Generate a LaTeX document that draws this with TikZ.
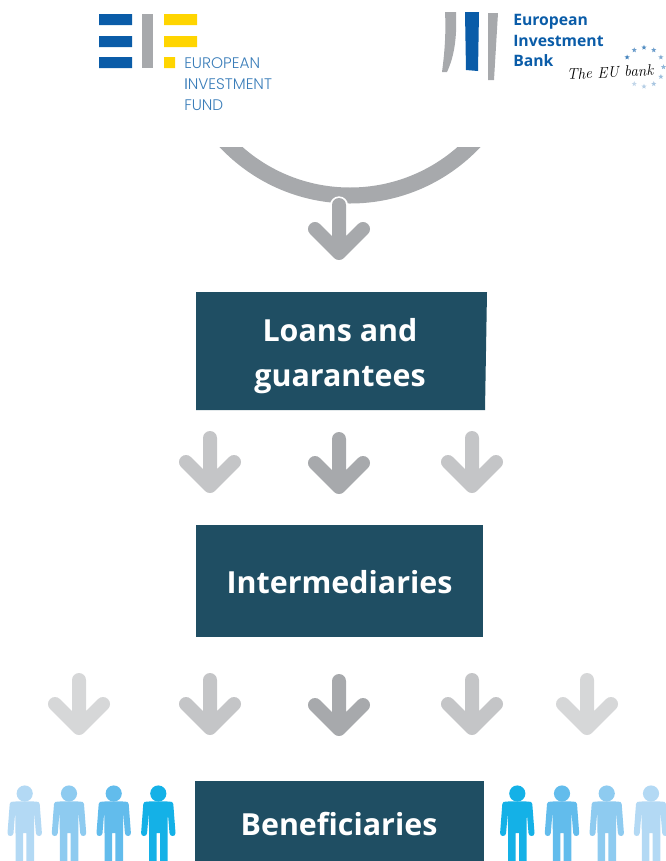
\documentclass[tikz,border=0pt]{standalone}
\usepackage{fontspec}
\usetikzlibrary{shapes.geometric}
\newfontfamily\headfont{Open Sans}
\newfontfamily\eibfont{Open Sans}
\newfontfamily\eiffont{Poppins Light}
\definecolor{boxteal}{HTML}{1F4E63}
\definecolor{arrowdark}{HTML}{A7A9AC}
\definecolor{arrowmid}{HTML}{C4C5C7}
\definecolor{arrowlight}{HTML}{D6D7D8}
\definecolor{eiblue}{HTML}{0A5CA8}
\definecolor{eitext}{HTML}{3A7DB9}
\definecolor{eiyellow}{HTML}{FFD500}
\definecolor{personA}{HTML}{B3D9F4}
\definecolor{personB}{HTML}{8ECBF0}
\definecolor{personC}{HTML}{62BCEC}
\definecolor{personD}{HTML}{14B1E7}
\tikzset{
  x=0.75pt,y=-0.75pt,
  tealbox/.style={fill=boxteal,draw=none},
  boxtext/.style={text=white,font=\headfont\bfseries\fontsize{22.8}{33.75}\selectfont,align=center,inner sep=0pt},
  eiftext/.style={text=eitext,font=\eiffont\fontsize{11.5}{14}\selectfont,anchor=base west,inner sep=0pt},
  eibtext/.style={text=eiblue,font=\eibfont\bfseries\fontsize{11.8}{15}\selectfont,anchor=base west,inner sep=0pt},
  pics/dnarrow/.style={code={
    \draw[#1,line width=10.5pt,line cap=round,line join=round]
      (0,0) -- (0,48) (-24,24) -- (0,48) -- (24,24);
  }},
  pics/person/.style={code={
    \fill[#1] (0,-15.5) circle[radius=8.1];
    \fill[#1] (-13.8,-7) .. controls (-10,-8) and (10,-8) .. (13.8,-7)
      .. controls (14.6,-6.7) and (15,-6) .. (15,-5)
      -- (17.2,24) .. controls (17.4,28) and (11.4,28) .. (11.2,24) -- (9.5,3)
      -- (9.3,24) -- (9.3,60) -- (1.7,60) -- (1.7,24) -- (-1.7,24) -- (-1.7,60) -- (-9.2,60) -- (-9.2,24) -- (-9.5,3)
      -- (-11.2,24) .. controls (-11.4,28) and (-17.4,28) .. (-17.2,24)
      -- (-15,-5) .. controls (-15,-6) and (-14.6,-6.7) .. (-13.8,-7) -- cycle;
  }},
}
\begin{document}
\begin{tikzpicture}
\useasboundingbox (0,0) rectangle (666,861);
\clip (0,0) rectangle (666,861);
% EIF logo
\fill[eiblue] (99,14) rectangle (132,25) (99,36) rectangle (132,47) (99,57) rectangle (132,68);
\fill[arrowdark] (142,14) rectangle (153,68);
\fill[eiyellow] (164,14) rectangle (197,25) (164,36) rectangle (197,47) (164,57) rectangle (175,68);
\node[eiftext] (eif1) at (184,68) {EUROPEAN};
\node[eiftext] (eif2) at (184,89) {{\color{eiblue}I}NVESTMENT};
\node[eiftext] (eif3) at (184,110) {FUND};
% EIB logo
\fill[arrowdark] (445,12) -- (456,12) .. controls (457,35) and (455,55) .. (447,72) -- (442,72) .. controls (445,50) and (446,30) .. (445,12) -- cycle;
\fill[eiblue] (465,12) -- (479,12) -- (478,71) -- (466,70) -- cycle;
\fill[arrowdark] (488,13) -- (498,13) -- (494,80) -- (488,80) -- cycle;
\node[eibtext] (eib1) at (513,25.5) {European};
\node[eibtext] (eib2) at (513,46) {Investment};
\node[eibtext] (eib3) at (513,66) {Bank};
\node[rotate=3,inner sep=0pt,font=\itshape\fontsize{11.5}{14}\selectfont] (motto) at (610,72.5) {The EU bank};
\foreach \a/\c in {-120/60,-90/70,-60/60,-30/50,0/45,30/40,60/35,90/30,120/25,-150/75}
  \node[star,star points=5,star point ratio=2.3,fill=eiblue!\c,draw=none,minimum size=4pt,inner sep=0pt] at ({644+19.5*cos(\a)},{67+19.5*sin(\a)}) {};
% big arc
\begin{scope}
\clip (200,147) rectangle (500,210);
\draw[arrowdark,line width=12pt] (350,24.5) circle[radius=171];
\end{scope}
% arrows
\draw[white,line width=13pt,line cap=round] (339,205) -- (339,215);
\pic at (339,205) {dnarrow=arrowdark};
\pic at (210,438) {dnarrow=arrowmid};
\pic at (339,439) {dnarrow=arrowdark};
\pic at (472,438) {dnarrow=arrowmid};
\pic at (79,680) {dnarrow=arrowlight};
\pic at (210,680) {dnarrow=arrowmid};
\pic at (339,681) {dnarrow=arrowdark};
\pic at (472,680) {dnarrow=arrowmid};
\pic at (587,680) {dnarrow=arrowlight};
% boxes
\fill[tealbox] (196,292) -- (487,292) -- (485,410) -- (196,410) -- cycle;
\node[boxtext] (loans) at (340,356) {Loans and\\guarantees};
\fill[tealbox] (196,525) rectangle (483,637);
\node[boxtext] (inter) at (339.5,582) {Intermediaries};
\fill[tealbox] (195,781) rectangle (484,861);
\node[boxtext] (benef) at (339,824) {Beneficiaries};
% people
\pic at (24.7,809) {person=personA};
\pic at (69,809) {person=personB};
\pic at (113.7,809) {person=personC};
\pic at (158.3,809) {person=personD};
\pic at (517.3,809) {person=personD};
\pic at (562,809) {person=personC};
\pic at (606.7,809) {person=personB};
\pic at (651,809) {person=personA};
\end{tikzpicture}
\end{document}
